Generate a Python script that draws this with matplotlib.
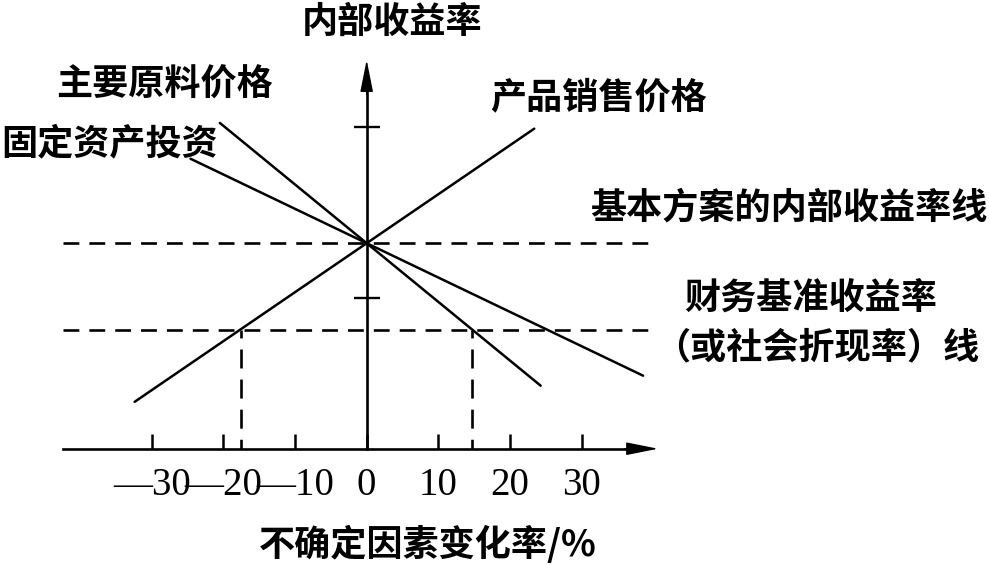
import matplotlib
matplotlib.use("Agg")
import matplotlib.pyplot as plt

plt.rcParams['font.family'] = ['Noto Sans CJK SC', 'DejaVu Sans']

# ---- data ----
pct_ticks = [-30, -20, -10, 0, 10, 20, 30]
pct_labels = ['\u201430', '\u201420', '\u201410', '0', '10', '20', '30']
irr_ticks = [21.0, 45.0]
base_irr = 28.7
benchmark_irr = 16.65
price_x = [-32.4, 23.4]
price_irr = [6.55, 44.7]
material_x = [-20.5, 24.3]
material_irr = [45.5, 8.8]
invest_x = [-24.6, 38.6]
invest_irr = [40.5, 10.2]
cross_x = [-17.6, 14.7]
ref_x_range = [-42.4, 40.5]

fig = plt.figure(figsize=(9.89, 5.65), dpi=100)
ax = fig.add_axes([0, 0, 1, 1])
ax.set_xlim(-51.2, 86.9)
ax.set_ylim(-16.24, 62.67)
ax.set_facecolor('white')

LW = 1.8
# spines as axes through origin
for s in ['top', 'right']:
    ax.spines[s].set_visible(False)
ax.spines['left'].set_position(('data', 0))
ax.spines['bottom'].set_position(('data', 0))
ax.spines['left'].set_bounds(0, 52)
ax.spines['bottom'].set_bounds(-42.4, 38.5)
ax.spines['left'].set_linewidth(1.9)
ax.spines['bottom'].set_linewidth(1.9)

ax.set_xticks(pct_ticks, pct_labels,
              fontfamily=['DejaVu Serif Condensed', 'Liberation Serif'], fontsize=28)
ax.tick_params(axis='x', direction='in', length=10.8, width=1.8, pad=13)
ax.set_yticks(irr_ticks)
ax.tick_params(axis='y', direction='inout', length=18.7, width=1.7, labelleft=False)

# arrow heads
ap = dict(arrowstyle='-|>,head_length=1.0,head_width=0.2', mutation_scale=20,
          lw=1, color='black', shrinkA=0, shrinkB=0)
ax.annotate('', xy=(40.7, 0), xytext=(36.0, 0), arrowprops=ap)
ax.annotate('', xy=(0, 54.3), xytext=(0, 49.5), arrowprops=ap)

# reference dashed lines
hd = (0, (6.0, 3.8))
ax.plot(ref_x_range, [base_irr, base_irr], color='black', lw=1.9, linestyle=hd)
ax.plot(ref_x_range, [benchmark_irr, benchmark_irr], color='black', lw=1.9, linestyle=hd)
vd = (4.2, (7.2, 4.2))
for cx in cross_x:
    ax.plot([cx, cx], [benchmark_irr, 0], color='black', lw=1.9, linestyle=vd)

# sensitivity lines
ax.plot(price_x, price_irr, color='black', lw=LW, solid_capstyle='round')
ax.plot(material_x, material_irr, color='black', lw=LW, solid_capstyle='round')
ax.plot(invest_x, invest_irr, color='black', lw=LW, solid_capstyle='round')

fs = 26
fw = 'bold'
ax.text(3.53, 59.6, '内部收益率', fontsize=fs, fontweight=fw, ha='center', va='center')
ax.text(-43.3, 50.8, '主要原料价格', fontsize=fs, fontweight=fw, ha='left', va='center')
ax.text(-51.0, 42.65, '固定资产投资', fontsize=fs, fontweight=fw, ha='left', va='center')
ax.text(17.2, 49.0, '产品销售价格', fontsize=fs, fontweight=fw, ha='left', va='center')
ax.text(31.2, 33.6, '基本方案的内部收益率线', fontsize=fs, fontweight=fw, ha='left', va='center')
ax.text(44.3, 21.05, '财务基准收益率', fontsize=fs, fontweight=fw, ha='left', va='center')
ax.text(85.5, 14.05, '（或社会折现率）线', fontsize=fs, fontweight=fw, ha='right', va='center')
ax.text(8.5, -13.45, '不确定因素变化率/%', fontsize=fs, fontweight=fw, ha='center', va='center')

fig.savefig('out.png', dpi=100, facecolor='white')
